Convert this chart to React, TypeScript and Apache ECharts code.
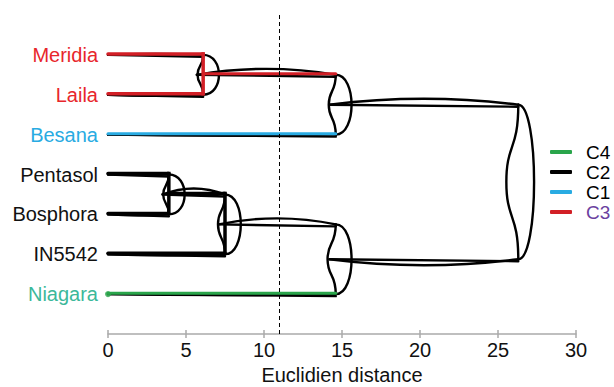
import React, { useEffect, useRef } from "react";
import * as echarts from "echarts";

// Leaves (top to bottom) and their cluster
const leafNames = ["Meridia", "Laila", "Besana", "Pentasol", "Bosphora", "IN5542", "Niagara"];
const leafCluster = ["C3", "C3", "C1", "C2", "C2", "C2", "C4"];
// Merge steps: node ids 0..6 are leaves, merge i creates node 7 + i
const mergeLeft = [0, 3, 8, 7, 9, 10];
const mergeRight = [1, 4, 5, 2, 6, 11];
const mergeHeight = [6.1, 3.9, 7.5, 14.6, 14.6, 26.3];
// Legend / clusters
const clusterNames = ["C4", "C2", "C1", "C3"];
const clusterLineColors = ["#2aa54b", "#000000", "#29abe2", "#d21f26"];
const clusterTextColors = ["#000000", "#000000", "#000000", "#6b3fa0"];
const leafLabelColors = ["#e8262c", "#e8262c", "#29abe2", "#111111", "#111111", "#111111", "#3cb89a"];
// Axis
const xTicks = [0, 5, 10, 15, 20, 25, 30];
const cutHeight = 11;
const axisName = "Euclidien distance";

const FONT = "'Liberation Sans', Arial, Helvetica, sans-serif";

// derived tree geometry (data units)
const nLeaves = leafNames.length;
const nodeX: number[] = [];
const nodeY: number[] = [];
const nodeCluster: (string | null)[] = [];
for (let i = 0; i < nLeaves; i++) {
  nodeX.push(0);
  nodeY.push(i);
  nodeCluster.push(leafCluster[i]);
}
for (let i = 0; i < mergeLeft.length; i++) {
  const a = mergeLeft[i];
  const b = mergeRight[i];
  nodeX.push(mergeHeight[i]);
  nodeY.push((nodeY[a] + nodeY[b]) / 2);
  nodeCluster.push(nodeCluster[a] && nodeCluster[a] === nodeCluster[b] ? nodeCluster[a] : null);
}
const colorOf = (c: string | null) => {
  const k = clusterNames.indexOf(c || "");
  return k >= 0 ? clusterLineColors[k] : "#000";
};

const BULGE = 1.35;
const WIG = 0.45;

export default function App() {
  const ref = useRef<HTMLDivElement>(null);
  useEffect(() => {
    if (!ref.current) return;
    document.body.style.margin = "0";
    const chart = echarts.init(ref.current, null, { renderer: "svg" });

    const mergeData = mergeHeight.map((h, i) => [i, h]);

    const pt = (api: any, x: number, y: number) => api.coord([x, y]);
    const f = (p: number[]) => `${p[0].toFixed(2)},${p[1].toFixed(2)}`;

    const renderCurves = (params: any, api: any) => {
      const i = params.dataIndex;
      const a = mergeLeft[i];
      const b = mergeRight[i];
      const h = mergeHeight[i];
      const ya = nodeY[a];
      const yb = nodeY[b];
      const ym = (ya + yb) / 2;
      const d = yb - ya;
      const P = (x: number, y: number) => pt(api, x, y);
      const children: any[] = [];
      const style = { stroke: "#000", lineWidth: 2.4, fill: "none", lineCap: "round" };
      // bulge arc
      children.push({
        type: "path",
        shape: {
          pathData: `M${f(P(h, ya))}C${f(P(h + BULGE, ya))} ${f(P(h + BULGE, yb))} ${f(P(h, yb))}`,
        },
        style,
      });
      // wiggle
      const w = WIG * Math.min(1.7, Math.max(0.8, d / 1.5));
      children.push({
        type: "path",
        shape: {
          pathData:
            `M${f(P(h, ya))}C${f(P(h, ya + 0.3 * d))} ${f(P(h - w, ym - 0.25 * d))} ${f(P(h - w, ym))}` +
            `C${f(P(h - w, ym + 0.25 * d))} ${f(P(h, yb - 0.3 * d))} ${f(P(h, yb))}`,
        },
        style,
      });
      // links from children
      [a, b].forEach((c, k) => {
        const isLeaf = c < nLeaves;
        const cw = isLeaf ? 0 : WIG * 0.9;
        const x0 = nodeX[c] - cw;
        const yc = nodeY[c];
        const arch = isLeaf ? 0.05 : 0.3;
        const dir = k === 0 ? -1 : 1;
        const p0 = P(x0, yc);
        const p1 = P(h, yc);
        const pOff = P(h, yc + 0.05);
        const pc = P((x0 + h) / 2, yc + dir * arch);
        children.push({
          type: "path",
          shape: { pathData: `M${f(p0)}L${f(pOff)}` },
          style,
        });
        children.push({
          type: "path",
          shape: { pathData: `M${f(p0)}Q${f(pc)} ${f(p1)}` },
          style,
        });
      });
      return { type: "group", children };
    };

    const renderElbows = (params: any, api: any) => {
      const i = params.dataIndex;
      const a = mergeLeft[i];
      const b = mergeRight[i];
      const h = mergeHeight[i];
      const P = (x: number, y: number) => pt(api, x, y);
      const children: any[] = [];
      const same = nodeCluster[7 + i];
      const mk = (p0: number[], p1: number[], color: string, lw: number) => ({
        type: "line",
        shape: { x1: p0[0], y1: p0[1] - 1, x2: p1[0], y2: p1[1] - 1 },
        style: { stroke: color, lineWidth: lw, lineCap: "round" },
      });
      if (same) {
        const col = colorOf(same);
        [a, b].forEach((c) => {
          children.push(mk(P(nodeX[c], nodeY[c]), P(h, nodeY[c]), col, 3.5));
        });
        const pa = P(h, nodeY[a]);
        const pb = P(h, nodeY[b]);
        children.push({
          type: "line",
          shape: { x1: pa[0], y1: pa[1] - 1, x2: pb[0], y2: pb[1] - 1 },
          style: { stroke: col, lineWidth: 3.5, lineCap: "square" },
        });
      } else {
        [a, b].forEach((c) => {
          const cc = nodeCluster[c];
          if (cc && colorOf(cc) !== "#000000") {
            children.push(mk(P(nodeX[c], nodeY[c]), P(h, nodeY[c]), colorOf(cc), 3));
          }
        });
      }
      return { type: "group", children };
    };

    const niagaraIdx = leafNames.indexOf("Niagara");

    chart.setOption({
      animation: false,
      grid: { left: 108, right: 38, top: 15, bottom: 53, containLabel: false, outerBoundsMode: "none" },
      legend: {
        orient: "vertical",
        left: 550,
        top: 142,
        padding: 0,
        itemWidth: 22,
        itemHeight: 4,
        itemGap: 0,
        icon: "roundRect",
        data: clusterNames.map((n, k) => ({
          name: n,
          itemStyle: { color: clusterLineColors[k] },
          textStyle: { color: clusterTextColors[k] },
        })),
        textStyle: { fontSize: 19, lineHeight: 20, fontFamily: FONT, padding: [0, 0, 0, 9] },
        selectedMode: false,
      },
      xAxis: [
        {
          type: "value",
          min: xTicks[0],
          max: xTicks[xTicks.length - 1],
          interval: 5,
          name: axisName,
          nameLocation: "middle",
          nameGap: 31,
          nameTextStyle: { fontSize: 20, color: "#111", fontFamily: FONT },
          axisLine: { show: true, onZero: false, lineStyle: { color: "#aaaaaa", width: 1.5 } },
          axisTick: { show: true, length: 4, lineStyle: { color: "#aaaaaa", width: 1.5 } },
          axisLabel: { fontSize: 20, color: "#111", fontFamily: FONT, margin: 6 },
          splitLine: { show: false },
        },
        {
          type: "value",
          min: xTicks[0],
          max: xTicks[xTicks.length - 1],
          interval: 5,
          position: "bottom",
          axisLine: { show: false, onZero: false },
          axisTick: { show: true, inside: true, length: 4, lineStyle: { color: "#aaaaaa", width: 1.5 } },
          axisLabel: { show: false },
          splitLine: { show: false },
        },
      ],
      yAxis: {
        type: "value",
        inverse: true,
        min: -1,
        max: 7,
        interval: 1,
        axisLine: { show: false },
        axisTick: { show: false },
        splitLine: { show: false },
        axisLabel: {
          margin: 10,
          fontSize: 20,
          fontFamily: FONT,
          formatter: (v: number) => {
            const i = Math.round(v);
            if (i < 0 || i >= nLeaves || Math.abs(v - i) > 1e-6) return "";
            return `{l${i}|${leafNames[i]}}`;
          },
          rich: Object.fromEntries(
            leafNames.map((_, i) => [`l${i}`, { color: leafLabelColors[i], fontSize: 20, fontFamily: FONT }])
          ),
        },
      },
      series: [
        {
          type: "custom",
          name: "curves",
          coordinateSystem: "cartesian2d",
          renderItem: renderCurves,
          data: mergeData,
          silent: true,
          z: 2,
        },
        {
          type: "custom",
          name: "elbows",
          coordinateSystem: "cartesian2d",
          renderItem: renderElbows,
          data: mergeData,
          silent: true,
          z: 3,
        },
        {
          type: "scatter",
          name: "Niagara point",
          data: [[0, niagaraIdx]],
          symbolSize: 6,
          itemStyle: { color: clusterLineColors[0] },
          silent: true,
          z: 4,
        },
        {
          type: "line",
          name: "cut",
          data: [],
          silent: true,
          markLine: {
            silent: true,
            symbol: "none",
            label: { show: false },
            lineStyle: { color: "#000", type: [4, 3], width: 1 },
            data: [{ xAxis: cutHeight }],
          },
        },
        ...clusterNames.map((n, k) => ({
          type: "line",
          name: n,
          data: [],
          itemStyle: { color: clusterLineColors[k] },
          lineStyle: { color: clusterLineColors[k] },
        })),
      ],
    });
    return () => chart.dispose();
  }, []);
  return <div ref={ref} style={{ width: 614, height: 387 }} />;
}
